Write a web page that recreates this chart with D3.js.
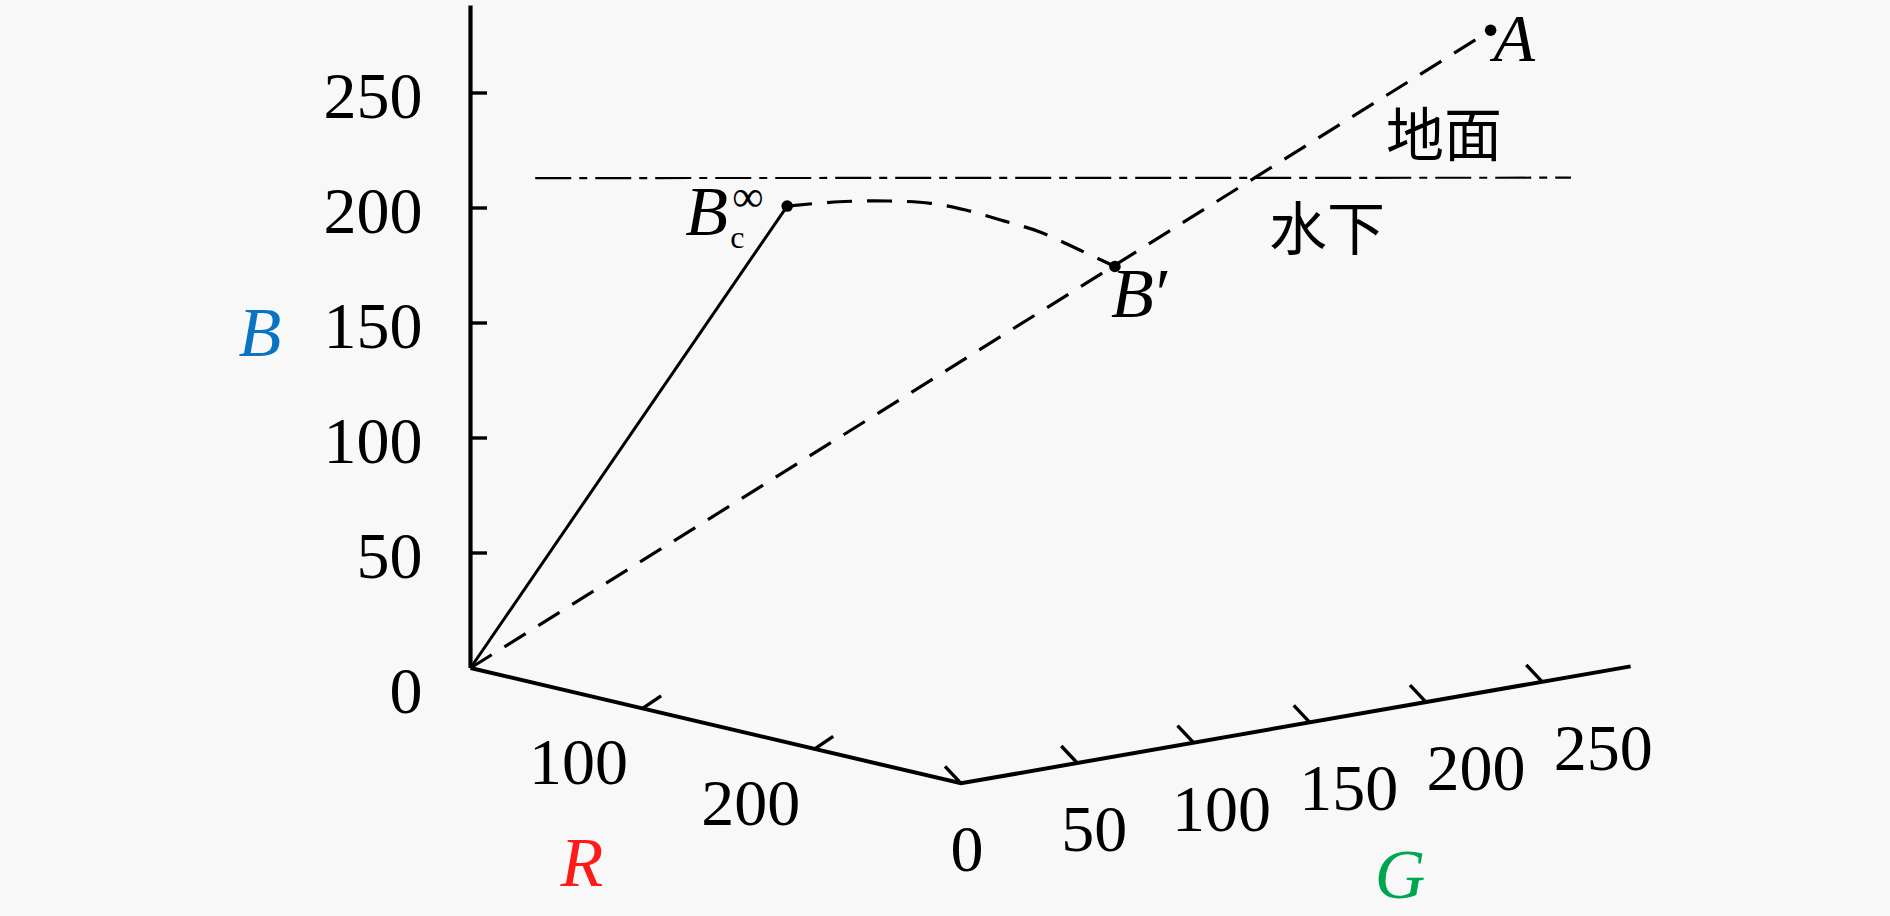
<!DOCTYPE html>
<html><head><meta charset="utf-8">
<script src="https://cdn.jsdelivr.net/npm/d3@7"></script>
<style>
html,body{margin:0;padding:0;background:#f8f8f8;}
svg{display:block;}
text{font-family:"Liberation Serif","Times New Roman",serif;fill:#000;}
</style></head><body>
<svg id="chart" width="1890" height="916"></svg>
<script>
// ---------------- data ----------------
const rMax = 285, gMax = 288, bMax = 288;
const rTicks = [100, 200];
const gTicks = [0, 50, 100, 150, 200, 250];
const bTicks = [0, 50, 100, 150, 200, 250];
const axisLetters = ["R", "G", "B"];
const axisColors = ["#ff1a1a", "#00a550", "#0a74c4"];

// labelled points (R, G, B)
const pointNames = ["A", "B′", "Bc∞"];
const pointR = [255, 161, 30];
const pointG = [250, 158, 114];
const pointB = [278, 175, 186];

// dashed curve from Bc∞ to B′ (R, G, B)
const curveR = [30, 45, 60, 75, 90, 105, 120, 140, 161];
const curveG = [114, 125.4, 135.4, 142.4, 146.4, 150.3, 155.8, 158.4, 158];
const curveB = [186, 188.5, 189.7, 190.1, 189.1, 186.7, 183.3, 178.4, 175];

// water surface (dash-dot), B level and diagonal span
const surfaceLevel = 213;
const surfaceSpan = [16, 272];
const regionLabels = ["地面", "水下"];

// ---------------- projection ----------------
const svg = d3.select("#chart");
const ox = 470.5, oy = 668;
const rx = d3.scaleLinear().domain([0, rMax]).range([0, 490.5]);
const ry = d3.scaleLinear().domain([0, rMax]).range([0, 115.3]);
const gx = d3.scaleLinear().domain([0, 250]).range([0, 581.25]);
const gy = d3.scaleLinear().domain([0, 250]).range([0, -101.5]);
const by = d3.scaleLinear().domain([0, 250]).range([0, -575]);
function P(r, g, b) { return [ox + rx(r) + gx(g), oy + ry(r) + gy(g) + by(b)]; }
const line = d3.line();

// ---------------- axes ----------------
const axes = svg.append("g").attr("stroke", "#000").attr("fill", "none").attr("stroke-linecap", "butt");
axes.append("path").attr("d", line([P(0,0,0), P(0,0,bMax)])).attr("stroke-width", 4.2);
axes.append("path").attr("d", line([P(0,0,0), P(rMax,0,0), P(rMax,gMax,0)]))
  .attr("stroke-width", 4).attr("stroke-linejoin", "miter");

// ticks
bTicks.filter(v => v > 0).forEach(v => {
  const p = P(0,0,v);
  axes.append("path").attr("d", line([p, [p[0]+16.5, p[1]]])).attr("stroke-width", 3.4);
});
rTicks.forEach(v => {
  const p = P(v,0,0);
  axes.append("path").attr("d", line([p, [p[0]+18.5, p[1]-12.5]])).attr("stroke-width", 3.4);
});
gTicks.forEach(v => {
  const p = P(rMax,v,0);
  axes.append("path").attr("d", line([p, [p[0]-16, p[1]-17]])).attr("stroke-width", 3.4);
});

// tick labels
const tl = svg.append("g").attr("font-size", 66);
bTicks.forEach(v => {
  const p = P(0,0,v);
  tl.append("text").attr("x", p[0]-48).attr("y", p[1] + (v === 0 ? 45 : 25))
    .attr("text-anchor", "end").text(v);
});
rTicks.forEach(v => {
  const p = P(v,0,0);
  tl.append("text").attr("x", p[0]-64).attr("y", p[1]+76).attr("text-anchor", "middle").text(v);
});
const gLabelShift = d3.scaleLinear().domain([0, 250]).range([6, 61]);
gTicks.forEach(v => {
  const p = P(rMax,v,0);
  tl.append("text").attr("x", p[0] + gLabelShift(v)).attr("y", p[1]+88).attr("text-anchor", "middle").text(v);
});

// axis letters
const letterPos = [[582, 886], [1400, 898], [260, 356]];
axisLetters.forEach((t, i) => {
  svg.append("text").attr("x", letterPos[i][0]).attr("y", letterPos[i][1])
    .attr("text-anchor", "middle").attr("font-size", 70).attr("font-style", "italic")
    .style("fill", axisColors[i]).text(t);
});

// ---------------- water surface ----------------
svg.append("path")
  .attr("d", line([P(surfaceSpan[0], surfaceSpan[0], surfaceLevel), P(surfaceSpan[1], surfaceSpan[1], surfaceLevel)]))
  .attr("stroke", "#000").attr("stroke-width", 2.2).attr("fill", "none")
  .attr("stroke-dasharray", "36,8,8,8");

const sp = P(surfaceSpan[1], surfaceSpan[1], surfaceLevel);
svg.append("text").attr("x", sp[0]-127).attr("y", sp[1]-22).attr("text-anchor", "middle")
  .attr("font-size", 58).style("font-family", '"Noto Sans CJK SC"').text(regionLabels[0]);
svg.append("text").attr("x", sp[0]-244).attr("y", sp[1]+72).attr("text-anchor", "middle")
  .attr("font-size", 58).style("font-family", '"Noto Sans CJK SC"').text(regionLabels[1]);

// ---------------- lines ----------------
const pts = pointNames.map((n, i) => P(pointR[i], pointG[i], pointB[i]));
const O = P(0,0,0);
// solid line origin -> Bc∞
svg.append("path").attr("d", line([O, pts[2]])).attr("stroke", "#000").attr("stroke-width", 3).attr("fill", "none");
// dashed origin -> A
svg.append("path").attr("d", line([O, pts[0]])).attr("stroke", "#000").attr("stroke-width", 3.2)
  .attr("fill", "none").attr("stroke-dasharray", "25,15");
// dashed curve Bc∞ -> B′
const cpts = curveR.map((r, i) => P(r, curveG[i], curveB[i]));
svg.append("path").attr("d", d3.line().curve(d3.curveCatmullRom)(cpts))
  .attr("stroke", "#000").attr("stroke-width", 3.2).attr("fill", "none").attr("stroke-dasharray", "25,15");

// points
pts.forEach(p => svg.append("circle").attr("cx", p[0]).attr("cy", p[1]).attr("r", 5.8).attr("fill", "#000"));

// point labels
// A
svg.append("text").attr("x", pts[0][0]+3).attr("y", pts[0][1]+31).attr("font-size", 68)
  .attr("font-style", "italic").text("A");
// B′
const bp = svg.append("text").attr("x", pts[1][0]-4).attr("y", pts[1][1]+51).attr("font-size", 70);
bp.append("tspan").attr("font-style", "italic").text("B");
bp.append("tspan").attr("dx", 2).text("′");
// Bc∞
const bc = pts[2];
svg.append("text").attr("x", bc[0]-102).attr("y", bc[1]+29).attr("font-size", 70)
  .attr("font-style", "italic").text("B");
svg.append("text").attr("x", bc[0]-57).attr("y", bc[1]+42).attr("font-size", 32).text("c");
svg.append("text").attr("x", bc[0]-55).attr("y", bc[1]+5).attr("font-size", 44).text("∞");
</script>
</body></html>
